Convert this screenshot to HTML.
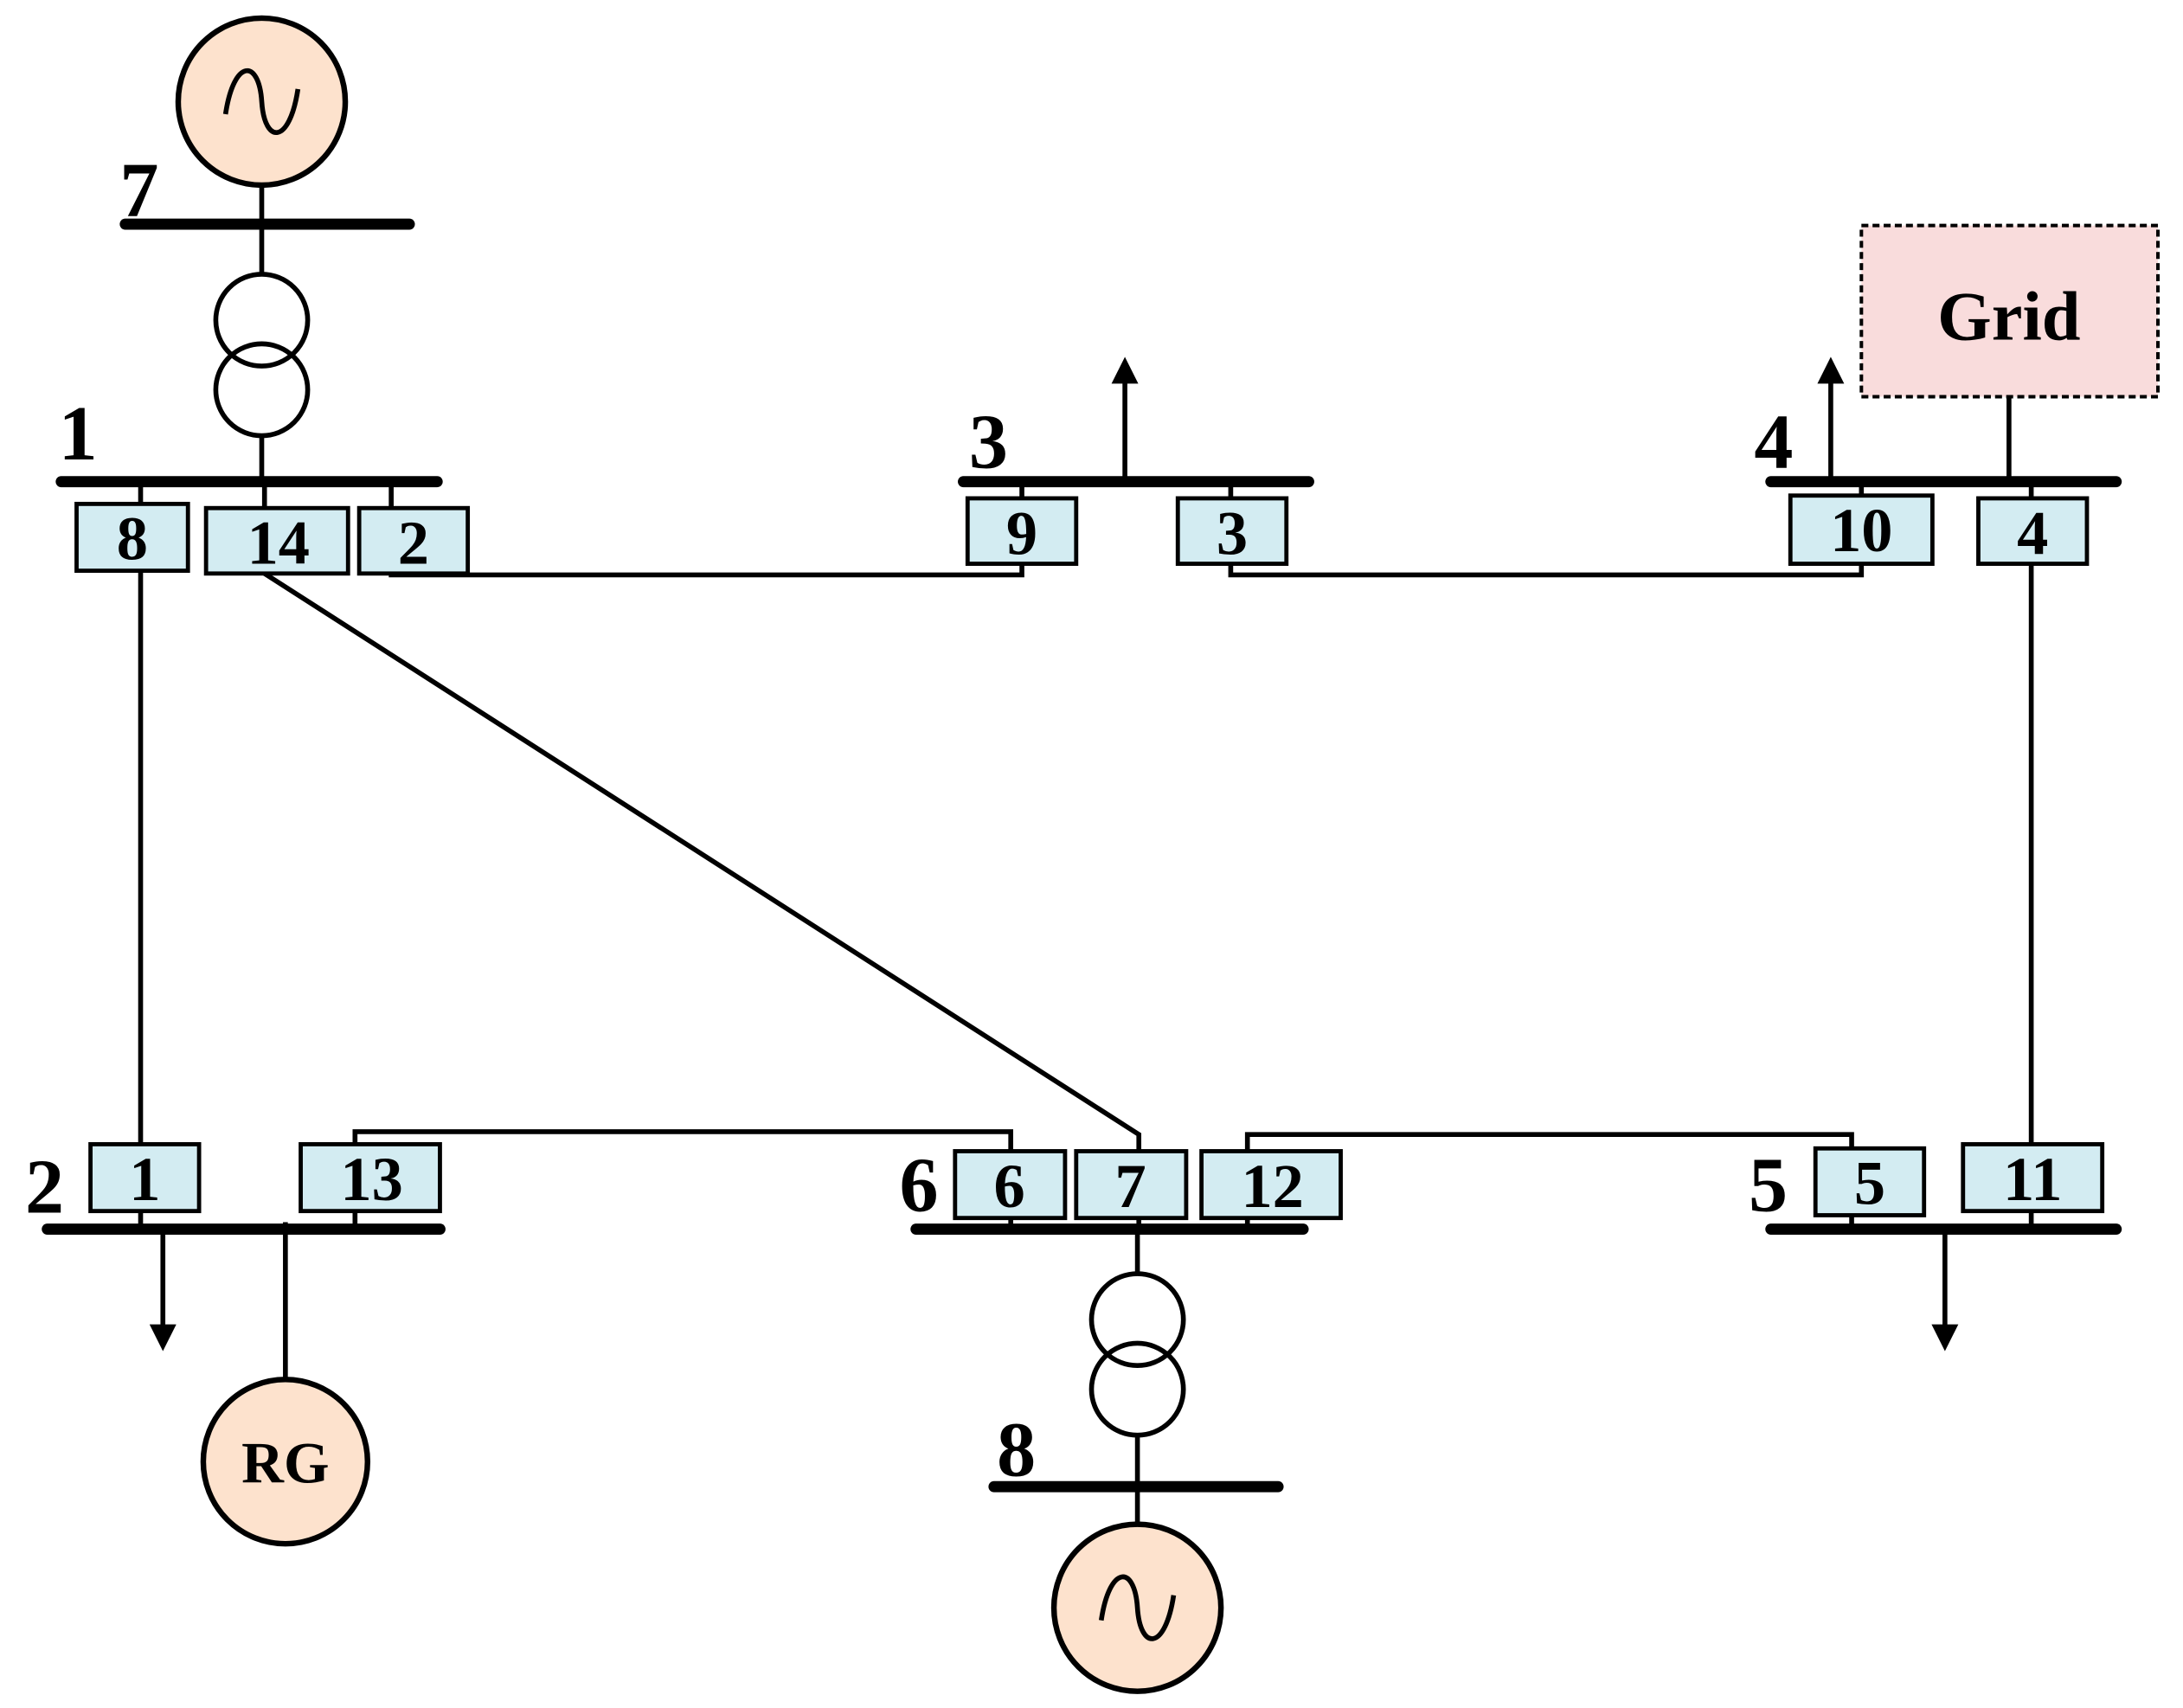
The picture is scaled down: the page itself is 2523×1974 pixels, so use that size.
<!DOCTYPE html>
<html><head><meta charset="utf-8"><style>
html,body{margin:0;padding:0;background:#fff}
svg{display:block}
text{font-family:"Liberation Serif",serif;font-weight:bold;fill:#000}
</style></head><body>
<svg width="2523" height="1974" viewBox="0 0 1568 1227" preserveAspectRatio="none" xmlns="http://www.w3.org/2000/svg">
<defs>
<marker id="ah" viewBox="0 0 10 10" refX="5" refY="5" markerWidth="5.5" markerHeight="5.5" orient="auto-start-reverse">
<path d="M0,0 L10,5 L0,10 z" fill="#000"/></marker>
</defs>
<g stroke="#000" fill="none" stroke-width="3.5">
<!-- top generator -->
<circle cx="188" cy="73" r="60" fill="#fde2cd" stroke-width="4"/>
<path d="M162,82 C168,42 186,42 188,73 C190,104 208,104 214,64" stroke-width="3.5"/>
<line x1="188" y1="133" x2="188" y2="198"/>
<circle cx="188" cy="230" r="33"/>
<circle cx="188" cy="280" r="33"/>
<line x1="188" y1="313" x2="188" y2="346"/>
<!-- bottom generator -->
<line x1="817" y1="883" x2="817" y2="915"/>
<circle cx="817" cy="948" r="33"/>
<circle cx="817" cy="998" r="33"/>
<line x1="817" y1="1031" x2="817" y2="1095"/>
<circle cx="817" cy="1155" r="60" fill="#fde2cd" stroke-width="4"/>
<path d="M791,1164 C797,1124 815,1124 817,1155 C819,1186 837,1186 843,1146"/>
<!-- RG -->
<line x1="205" y1="878" x2="205" y2="991"/>
<circle cx="205" cy="1050" r="59" fill="#fde2cd" stroke-width="4"/>
<!-- arrows -->
<line x1="808" y1="346" x2="808" y2="266" marker-end="url(#ah)"/>
<line x1="1315" y1="346" x2="1315" y2="266" marker-end="url(#ah)"/>
<line x1="117" y1="883" x2="117" y2="961" marker-end="url(#ah)"/>
<line x1="1397" y1="883" x2="1397" y2="961" marker-end="url(#ah)"/>
<!-- grid -->
<rect x="1337" y="162" width="213" height="123" fill="#f9dcdc" stroke-width="2.5" stroke-dasharray="5,3"/>
<line x1="1443" y1="285" x2="1443" y2="346"/>
<!-- connecting lines -->
<polyline points="281,346 281,413 734,413 734,346"/>
<polyline points="884,346 884,413 1337,413 1337,346"/>
<line x1="101" y1="346" x2="101" y2="883"/>
<polyline points="190,346 190,412 818,815 818,883"/>
<line x1="1459" y1="346" x2="1459" y2="883"/>
<polyline points="255,883 255,813 726,813 726,883"/>
<polyline points="896,883 896,815 1330,815 1330,883"/>
</g>
<!-- buses -->
<g stroke="#000" stroke-width="8" stroke-linecap="round">
<line x1="90" y1="161" x2="294" y2="161"/>
<line x1="44" y1="346" x2="314" y2="346"/>
<line x1="692" y1="346" x2="940" y2="346"/>
<line x1="1272" y1="346" x2="1520" y2="346"/>
<line x1="34" y1="883" x2="316" y2="883"/>
<line x1="658" y1="883" x2="936" y2="883"/>
<line x1="1272" y1="883" x2="1520" y2="883"/>
<line x1="714" y1="1068" x2="918" y2="1068"/>
</g>
<!-- boxes -->
<g fill="#d3ecf2" stroke="#000" stroke-width="3">
<rect x="55" y="362" width="80" height="48"/>
<rect x="148" y="365" width="102" height="47"/>
<rect x="258" y="365" width="78" height="47"/>
<rect x="695" y="358" width="78" height="47"/>
<rect x="846" y="358" width="78" height="47"/>
<rect x="1286" y="356" width="102" height="49"/>
<rect x="1421" y="358" width="78" height="47"/>
<rect x="65" y="822" width="78" height="48"/>
<rect x="216" y="822" width="100" height="48"/>
<rect x="686" y="827" width="79" height="48"/>
<rect x="773" y="827" width="79" height="48"/>
<rect x="863" y="827" width="100" height="48"/>
<rect x="1304" y="825" width="78" height="48"/>
<rect x="1410" y="822" width="100" height="48"/>
</g>
<g font-size="45" text-anchor="middle">
<text x="95" y="402">8</text>
<text x="200" y="405">14</text>
<text x="297" y="405">2</text>
<text x="734" y="398">9</text>
<text x="885" y="398">3</text>
<text x="1337" y="396">10</text>
<text x="1460" y="398">4</text>
<text x="104" y="862">1</text>
<text x="267" y="862">13</text>
<text x="725" y="867">6</text>
<text x="812" y="867">7</text>
<text x="914" y="867">12</text>
<text x="1343" y="865">5</text>
<text x="1460" y="862">11</text>
</g>
<g font-size="56">
<text x="86" y="155">7</text>
<text x="42" y="330">1</text>
<text x="696" y="336">3</text>
<text x="1260" y="336">4</text>
<text x="18" y="871">2</text>
<text x="646" y="870">6</text>
<text x="1256" y="870">5</text>
<text x="716" y="1060">8</text>
</g>
<text x="1443" y="244" font-size="50" text-anchor="middle">Grid</text>
<text x="205" y="1065" font-size="42" text-anchor="middle">RG</text>
</svg>
</body></html>
